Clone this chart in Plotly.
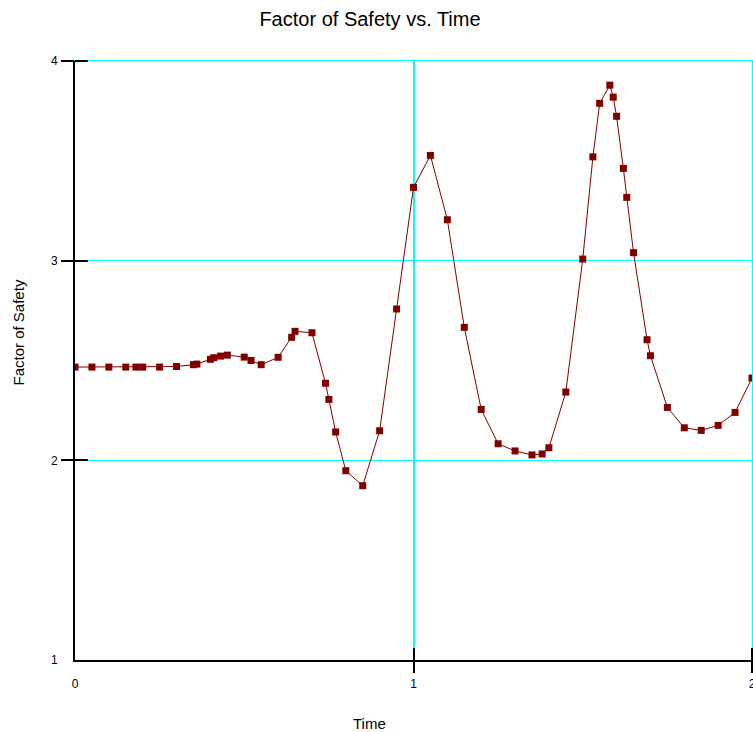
import plotly.graph_objects as go

time = [0.00, 0.05, 0.10, 0.15, 0.18, 0.20, 0.25, 0.30, 0.35, 0.36, 0.40, 0.41, 0.43, 0.45,
        0.50, 0.52, 0.55, 0.60, 0.64, 0.65, 0.70, 0.74, 0.75, 0.77, 0.80, 0.85, 0.90, 0.95,
        1.00, 1.05, 1.10, 1.15, 1.20, 1.25, 1.30, 1.35, 1.38, 1.40, 1.45, 1.50, 1.53, 1.55,
        1.58, 1.59, 1.60, 1.62, 1.63, 1.65, 1.69, 1.70, 1.75, 1.80, 1.85, 1.90, 1.95, 2.00]
fos = [2.467, 2.467, 2.467, 2.467, 2.467, 2.467, 2.467, 2.470, 2.479, 2.482, 2.506, 2.514, 2.522, 2.527,
       2.517, 2.500, 2.479, 2.516, 2.616, 2.646, 2.639, 2.386, 2.305, 2.142, 1.948, 1.873, 2.148, 2.758,
       3.367, 3.527, 3.205, 2.666, 2.255, 2.083, 2.047, 2.027, 2.032, 2.063, 2.342, 3.008, 3.520, 3.788,
       3.879, 3.819, 3.723, 3.462, 3.317, 3.040, 2.604, 2.524, 2.265, 2.163, 2.150, 2.175, 2.240, 2.412]

x_ticks = [0, 1, 2]
y_ticks = [1, 2, 3, 4]

title_text = "Factor of Safety vs. Time"
x_title = "Time"
y_title = "Factor of Safety"

font = "Liberation Sans, Arial, sans-serif"
red = "#800000"
cyan = "#00FFFF"

fig = go.Figure()
fig.add_trace(go.Scatter(
    x=time, y=fos, mode="lines+markers",
    line=dict(color=red, width=1),
    marker=dict(symbol="square", size=7, color=red),
    showlegend=False, hoverinfo="x+y",
))
# invisible traces carrying the helper axes (cyan frame, outside tick halves)
for xa, ya in (("x2", "y2"), ("x3", "y3")):
    fig.add_trace(go.Scatter(x=[x_ticks[0]], y=[y_ticks[0]], xaxis=xa, yaxis=ya,
                             mode="markers", marker=dict(opacity=0), showlegend=False,
                             hoverinfo="skip"))

fig.update_layout(
    width=753, height=732,
    margin=dict(l=75, r=1, t=61, b=72),
    paper_bgcolor="white", plot_bgcolor="white",
    font=dict(family=font, size=12, color="black"),
    title=dict(text=title_text, x=370 / 753, xanchor="center",
               y=1 - 19 / 732, yanchor="middle",
               font=dict(family=font, size=20, color="black")),
    xaxis=dict(range=[0, 2], tickvals=x_ticks, ticktext=[str(v) for v in x_ticks],
               ticks="", ticklabelstandoff=12, automargin=False,
               ticklabeloverflow="allow",
               minor=dict(tickvals=x_ticks[1:], ticks="inside", ticklen=12, tickwidth=2,
                          tickcolor="black", showgrid=False),
               showline=True, linecolor="black", linewidth=2,
               showgrid=True, gridcolor=cyan, gridwidth=1.5, zeroline=False,
               tickfont=dict(size=12)),
    yaxis=dict(range=[1, 4], tickvals=y_ticks, ticktext=[str(v) for v in y_ticks],
               ticks="", ticklabelstandoff=13, automargin=False,
               ticklabeloverflow="allow",
               minor=dict(tickvals=y_ticks[1:], ticks="inside", ticklen=13, tickwidth=2,
                          tickcolor="black", showgrid=False),
               showline=True, linecolor="black", linewidth=2,
               showgrid=True, gridcolor=cyan, gridwidth=1, zeroline=False,
               tickfont=dict(size=12)),
    xaxis2=dict(overlaying="x", anchor="y", side="top", range=[0, 2], automargin=False,
                ticks="", showticklabels=False, showline=True, linecolor=cyan, linewidth=1,
                showgrid=False, zeroline=False),
    yaxis2=dict(overlaying="y", anchor="x", side="right", range=[1, 4], automargin=False,
                ticks="", showticklabels=False, showline=True, linecolor=cyan, linewidth=1,
                showgrid=False, zeroline=False),
    xaxis3=dict(overlaying="x", anchor="y", side="bottom", range=[0, 2], automargin=False,
                tickvals=x_ticks[1:], ticks="outside", ticklen=12, tickwidth=2,
                tickcolor="black", showticklabels=False, showline=False,
                showgrid=False, zeroline=False),
    yaxis3=dict(overlaying="y", anchor="x", side="left", range=[1, 4], automargin=False,
                tickvals=y_ticks[1:], ticks="outside", ticklen=13, tickwidth=2,
                tickcolor="black", showticklabels=False, showline=False,
                showgrid=False, zeroline=False),
    annotations=[
        dict(text=x_title, xref="paper", yref="paper", x=(369 - 75) / 677, y=(660 - 723) / 599,
             xanchor="center", yanchor="middle", showarrow=False,
             font=dict(family=font, size=15, color="black")),
        dict(text=y_title, xref="paper", yref="paper", x=(17.5 - 75) / 677, y=(660 - 333) / 599,
             xanchor="center", yanchor="middle", showarrow=False, textangle=-90,
             font=dict(family=font, size=15, color="black")),
    ],
)

fig.write_html("out.html", config={"displayModeBar": False},
               post_script="document.body.style.margin='0px';")
